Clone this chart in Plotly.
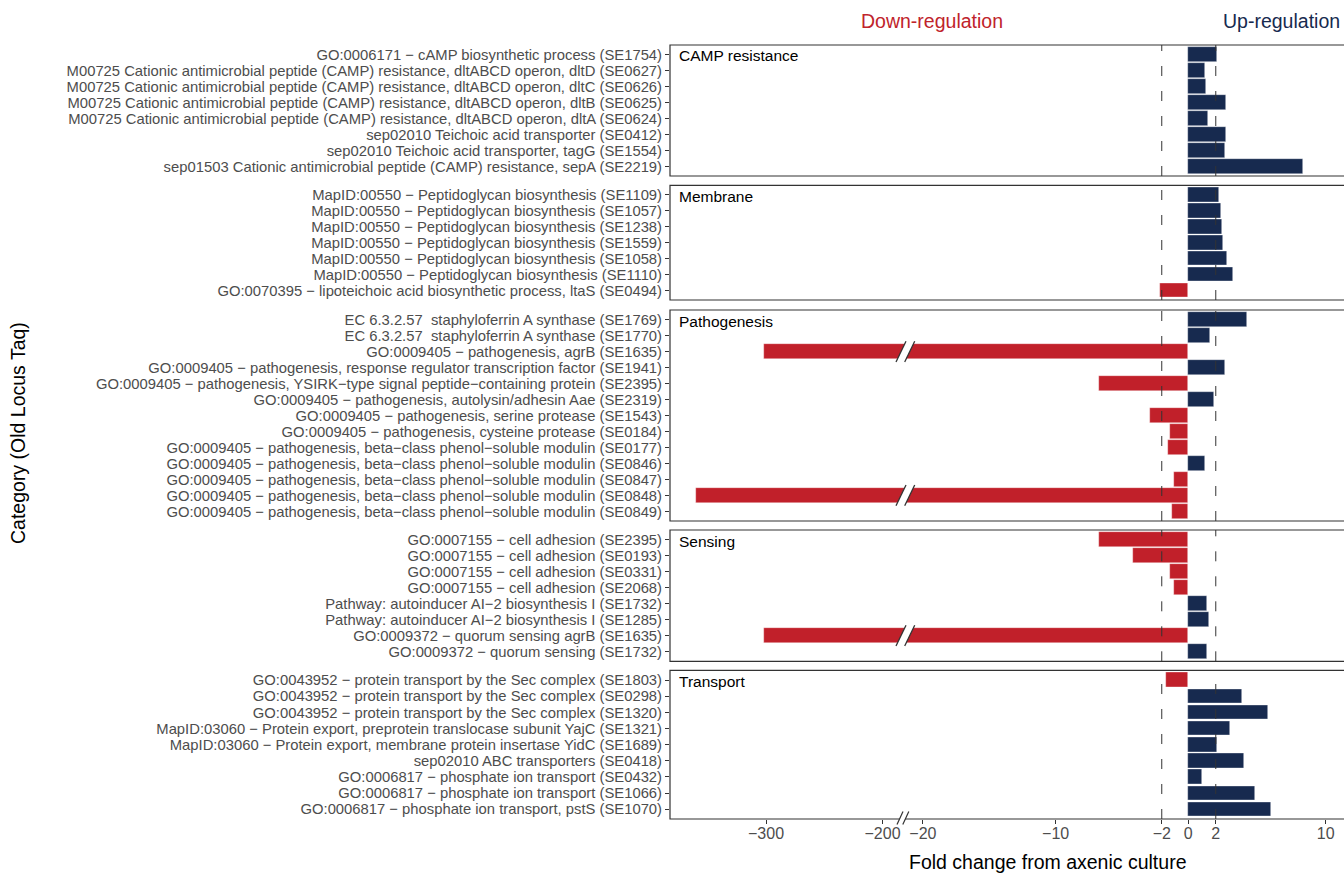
import plotly.graph_objects as go

# ---- data: fold change from axenic culture, grouped by functional category ----
camp_labels = [
    "GO:0006171 − cAMP biosynthetic process (SE1754)",
    "M00725 Cationic antimicrobial peptide (CAMP) resistance, dltABCD operon, dltD (SE0627)",
    "M00725 Cationic antimicrobial peptide (CAMP) resistance, dltABCD operon, dltC (SE0626)",
    "M00725 Cationic antimicrobial peptide (CAMP) resistance, dltABCD operon, dltB (SE0625)",
    "M00725 Cationic antimicrobial peptide (CAMP) resistance, dltABCD operon, dltA (SE0624)",
    "sep02010 Teichoic acid transporter (SE0412)",
    "sep02010 Teichoic acid transporter, tagG (SE1554)",
    "sep01503 Cationic antimicrobial peptide (CAMP) resistance, sepA (SE2219)",
]
camp_fc = [2.11, 1.24, 1.26, 2.74, 1.41, 2.77, 2.69, 8.37]

membrane_labels = [
    "MapID:00550 − Peptidoglycan biosynthesis (SE1109)",
    "MapID:00550 − Peptidoglycan biosynthesis (SE1057)",
    "MapID:00550 − Peptidoglycan biosynthesis (SE1238)",
    "MapID:00550 − Peptidoglycan biosynthesis (SE1559)",
    "MapID:00550 − Peptidoglycan biosynthesis (SE1058)",
    "MapID:00550 − Peptidoglycan biosynthesis (SE1110)",
    "GO:0070395 − lipoteichoic acid biosynthetic process, ltaS (SE0494)",
]
membrane_fc = [2.23, 2.36, 2.48, 2.50, 2.82, 3.28, -2.11]

patho_labels = [
    "EC 6.3.2.57  staphyloferrin A synthase (SE1769)",
    "EC 6.3.2.57  staphyloferrin A synthase (SE1770)",
    "GO:0009405 − pathogenesis, agrB (SE1635)",
    "GO:0009405 − pathogenesis, response regulator transcription factor (SE1941)",
    "GO:0009405 − pathogenesis, YSIRK−type signal peptide−containing protein (SE2395)",
    "GO:0009405 − pathogenesis, autolysin/adhesin Aae (SE2319)",
    "GO:0009405 − pathogenesis, serine protease (SE1543)",
    "GO:0009405 − pathogenesis, cysteine protease (SE0184)",
    "GO:0009405 − pathogenesis, beta−class phenol−soluble modulin (SE0177)",
    "GO:0009405 − pathogenesis, beta−class phenol−soluble modulin (SE0846)",
    "GO:0009405 − pathogenesis, beta−class phenol−soluble modulin (SE0847)",
    "GO:0009405 − pathogenesis, beta−class phenol−soluble modulin (SE0848)",
    "GO:0009405 − pathogenesis, beta−class phenol−soluble modulin (SE0849)",
]
patho_fc = [4.27, 1.60, -302, 2.65, -6.75, 1.89, -2.91, -1.36, -1.51, 1.24, -1.08, -360, -1.23]

sensing_labels = [
    "GO:0007155 − cell adhesion (SE2395)",
    "GO:0007155 − cell adhesion (SE0193)",
    "GO:0007155 − cell adhesion (SE0331)",
    "GO:0007155 − cell adhesion (SE2068)",
    "Pathway: autoinducer AI−2 biosynthesis I (SE1732)",
    "Pathway: autoinducer AI−2 biosynthesis I (SE1285)",
    "GO:0009372 − quorum sensing agrB (SE1635)",
    "GO:0009372 − quorum sensing (SE1732)",
]
sensing_fc = [-6.75, -4.14, -1.36, -1.10, 1.38, 1.53, -302, 1.38]

transport_labels = [
    "GO:0043952 − protein transport by the Sec complex (SE1803)",
    "GO:0043952 − protein transport by the Sec complex (SE0298)",
    "GO:0043952 − protein transport by the Sec complex (SE1320)",
    "MapID:03060 − Protein export, preprotein translocase subunit YajC (SE1321)",
    "MapID:03060 − Protein export, membrane protein insertase YidC (SE1689)",
    "sep02010 ABC transporters (SE0418)",
    "GO:0006817 − phosphate ion transport (SE0432)",
    "GO:0006817 − phosphate ion transport (SE1066)",
    "GO:0006817 − phosphate ion transport, pstS (SE1070)",
]
transport_fc = [-1.66, 3.89, 5.78, 3.01, 2.09, 4.05, 1.02, 4.85, 6.02]

categories = ["CAMP resistance", "Membrane", "Pathogenesis", "Sensing", "Transport"]
panel_labels = [camp_labels, membrane_labels, patho_labels, sensing_labels, transport_labels]
panel_values = [camp_fc, membrane_fc, patho_fc, sensing_fc, transport_fc]

tick_values = [-300, -200, -20, -10, -2, 0, 2, 10]
tick_text = ["−300", "−200", "−20", "−10", "−2", "0", "2", "10"]

# ---- styling ----
RED = "#C1202A"
NAVY = "#172A4F"
FONT = "Liberation Sans, Arial, Helvetica, sans-serif"
AXIS_GREY = "#4D4D4D"
LINE = "#333333"

W, H = 1344, 874
M_L, M_R, M_T, M_B = 670, 0, 45, 55
PLOT_H = H - M_T - M_B
ZERO_PX = 1188.3  # horizontal position of fold change 0


# broken x scale: linear near zero, compressed below the break at -200
def scale_x(v):
    if v >= 0:
        return 13.74 * v
    if v >= -20:
        return 13.27 * v
    return -305.8 + (v + 200) * 1.165


def px_to_x(px):
    return px - ZERO_PX


def py_to_paper(py):
    return (H - M_B - py) / PLOT_H


# vertical extent of each facet panel (top, bottom) in page pixels
panel_px = [(45, 176), (185.3, 300), (310, 521), (530, 661.3), (670.3, 819)]

fig = go.Figure()
shapes = []
annotations = []
layout_axes = {}

for k, (cat, labels, vals, (top, bot)) in enumerate(
        zip(categories, panel_labels, panel_values, panel_px), start=1):
    yname = "y" if k == 1 else f"y{k}"
    ykey = "yaxis" if k == 1 else f"yaxis{k}"
    n = len(labels)
    rows = list(range(1, n + 1))
    fig.add_trace(go.Bar(
        x=[scale_x(v) for v in vals],
        y=rows,
        orientation="h",
        width=0.9,
        marker=dict(color=[NAVY if v > 0 else RED for v in vals],
                    line=dict(width=0.6, color="rgba(255,255,255,0.6)")),
        xaxis="x", yaxis=yname,
        showlegend=False,
        customdata=vals,
        hovertemplate="%{customdata}<extra></extra>",
    ))
    layout_axes[ykey] = dict(
        domain=[py_to_paper(bot), py_to_paper(top)],
        anchor="x",
        range=[n + 0.6, 0.4],
        tickmode="array",
        tickvals=rows,
        ticktext=labels,
        ticks="outside", ticklen=4, tickwidth=1, tickcolor=LINE,
        tickfont=dict(family=FONT, size=14.8, color=AXIS_GREY),
        showgrid=False, zeroline=False, showline=False,
    )
    # panel border
    shapes.append(dict(type="rect", xref="paper", yref="paper",
                       x0=0, x1=1.02, y0=py_to_paper(bot), y1=py_to_paper(top),
                       line=dict(color=LINE, width=1.2), fillcolor="rgba(0,0,0,0)",
                       layer="above"))
    # threshold lines at -2 and +2
    for t in (-2, 2):
        shapes.append(dict(type="line", xref="x", yref=f"{yname} domain",
                           x0=scale_x(t), x1=scale_x(t), y0=0, y1=1,
                           line=dict(color=LINE, width=1, dash="10px,15px"),
                           layer="above"))
    # break marks on bars that cross the axis break
    for r, v in zip(rows, vals):
        if v <= -200:
            xa, xb = px_to_x(896), px_to_x(906)
            off = 8.7
            yb, yt = r + 0.65, r - 0.65
            shapes.append(dict(type="path", xref="x", yref=yname,
                               path=f"M {xa},{yb} L {xb},{yt} L {xb + off},{yt} L {xa + off},{yb} Z",
                               fillcolor="white", line=dict(width=0), layer="above"))
            for d in (0, off):
                shapes.append(dict(type="line", xref="x", yref=yname,
                                   x0=xa + d, y0=yb, x1=xb + d, y1=yt,
                                   line=dict(color=LINE, width=1.3), layer="above"))
    # facet label inside the panel
    annotations.append(dict(text=cat, xref="paper", yref="paper",
                            x=(677 - M_L) / (W - M_L - M_R), y=py_to_paper(top + 0.5),
                            xanchor="left", yanchor="top", showarrow=False,
                            font=dict(family=FONT, size=15.5, color="black")))

# break mark on the x axis line
xa, xb, off = px_to_x(897), px_to_x(903), 5.8
ya, yb = py_to_paper(824.5), py_to_paper(811.5)
shapes.append(dict(type="path", xref="x", yref="paper",
                   path=f"M {xa},{ya} L {xb},{yb} L {xb + off},{yb} L {xa + off},{ya} Z",
                   fillcolor="white", line=dict(width=0), layer="above"))
for d in (0, off):
    shapes.append(dict(type="line", xref="x", yref="paper",
                       x0=xa + d, y0=ya, x1=xb + d, y1=yb,
                       line=dict(color=LINE, width=1.2), layer="above"))

# titles and direction labels
TITLE_SIZE = 19.5
annotations += [
    dict(text="Fold change from axenic culture", xref="paper", yref="paper",
         x=(1047 - M_L) / (W - M_L), y=py_to_paper(862), xanchor="center", yanchor="middle",
         showarrow=False, font=dict(family=FONT, size=TITLE_SIZE, color="black")),
    dict(text="Category (Old Locus Taq)", xref="paper", yref="paper",
         x=(18 - M_L) / (W - M_L), y=py_to_paper(433), xanchor="center", yanchor="middle",
         textangle=-90, showarrow=False, font=dict(family=FONT, size=TITLE_SIZE, color="black")),
    dict(text="Down-regulation", xref="paper", yref="paper",
         x=(932 - M_L) / (W - M_L), y=py_to_paper(21), xanchor="center", yanchor="middle",
         showarrow=False, font=dict(family=FONT, size=TITLE_SIZE, color="#C0232B")),
    dict(text="Up-regulation", xref="paper", yref="paper",
         x=(1281 - M_L) / (W - M_L), y=py_to_paper(21), xanchor="center", yanchor="middle",
         showarrow=False, font=dict(family=FONT, size=TITLE_SIZE, color=NAVY)),
]

fig.update_layout(
    width=W, height=H,
    margin=dict(l=M_L, r=M_R, t=M_T, b=M_B),
    paper_bgcolor="white", plot_bgcolor="white",
    bargap=0,
    xaxis=dict(
        domain=[0, 1], anchor="y5",
        range=[px_to_x(M_L), px_to_x(W - M_R)],
        tickmode="array",
        tickvals=[scale_x(v) for v in tick_values],
        ticktext=tick_text,
        ticks="outside", ticklen=4, tickwidth=1, tickcolor=LINE,
        ticklabelstandoff=-4,
        tickfont=dict(family=FONT, size=16, color=AXIS_GREY),
        showgrid=False, zeroline=False, showline=False,
    ),
    shapes=shapes,
    annotations=annotations,
    **layout_axes,
)

fig.write_html("out.html")
